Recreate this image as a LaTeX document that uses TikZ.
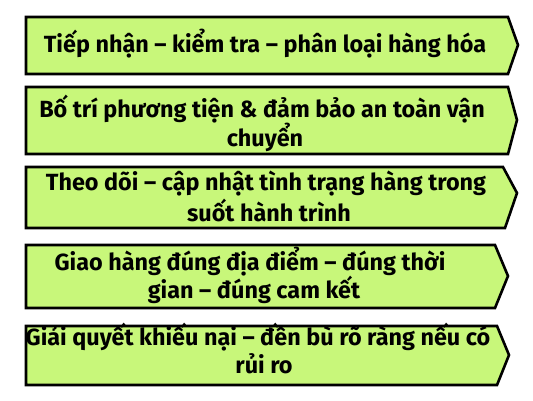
\documentclass[tikz,border=0pt]{standalone}
\usepackage{fontspec}
\setmainfont{Fira Sans}
\definecolor{boxgreen}{RGB}{200,247,122}
\tikzset{
  chevbox/.style={draw=black, fill=boxgreen, line width=2.6pt, line join=miter},
  lbl/.style={anchor=base, inner sep=0pt, font=\fontsize{23.4}{28}\selectfont\bfseries, text=black}
}
\begin{document}
\begin{tikzpicture}[x=1pt,y=-1pt]
\useasboundingbox (0,0) rectangle (533,400);
% boxes
\draw[chevbox] (26,17) -- (508,17) -- (518,45) -- (508,74) -- (26,74) -- cycle;
\draw[chevbox] (26,87) -- (508,87) -- (517,120) -- (508,154) -- (26,154) -- cycle;
\draw[chevbox] (26,167) -- (503,167) -- (517,193) -- (505,228) -- (26,228) -- cycle;
\draw[chevbox] (26,245) -- (495,245) -- (508,276) -- (495,308) -- (26,308) -- cycle;
\draw[chevbox] (26,326) -- (497,326) -- (509,355) -- (497,385) -- (26,385) -- cycle;
% labels
\node[lbl] (t1) at (265,52) {Tiếp nhận – kiểm tra – phân loại hàng hóa};
\node[lbl] (t2a) at (262,117) {Bố trí phương tiện \& đảm bảo an toàn vận};
\node[lbl] (t2b) at (265,146) {chuyển};
\node[lbl] (t3a) at (266,190) {Theo dõi – cập nhật tình trạng hàng trong};
\node[lbl] (t3b) at (269,221) {suốt hành trình};
\node[lbl] (t4a) at (250,270) {Giao hàng đúng địa điểm – đúng thời};
\node[lbl] (t4b) at (254,298) {gian – đúng cam kết};
\node[lbl] (t5a) at (258,345) {Giải quyết khiếu nại – đền bù rõ ràng nếu có};
\node[lbl] (t5b) at (264,373) {rủi ro};
\end{tikzpicture}
\end{document}
